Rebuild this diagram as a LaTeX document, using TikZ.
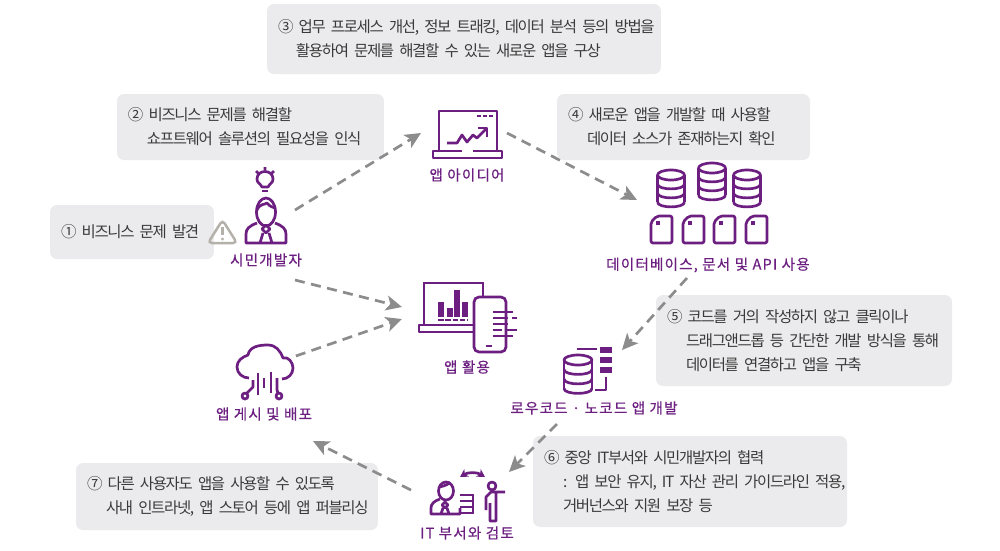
\documentclass[tikz,border=0pt]{standalone}
\usepackage{fontspec}
\setmainfont[LetterSpace=-8.5]{Noto Sans CJK KR}
\newfontfamily\labelfont[LetterSpace=8, FakeBold=0.5]{Noto Sans CJK KR}
\usetikzlibrary{arrows.meta, calc}
\definecolor{cpurple}{HTML}{6C1F80}
\definecolor{cgrey}{HTML}{8C8C8C}
\definecolor{cnote}{HTML}{EBEBED}
\definecolor{ctext}{HTML}{3A3A3A}
\definecolor{cwarn}{HTML}{B3B1A9}
\newcommand{\notefont}{\fontsize{4.4pt}{6.83pt}\selectfont\spaceskip 0.12em\relax}
\tikzset{
  every picture/.style={line width=0.25mm},
  note/.style={fill=cnote, rounded corners=0.7mm, anchor=north west, outer sep=0pt, inner xsep=1.1mm, inner ysep=0pt, align=left, text=ctext, font=\notefont},
  tag/.style={text=cpurple, inner sep=0pt, font=\labelfont\fontsize{4.15pt}{5pt}\selectfont},
  iconbox/.style={inner sep=0pt, outer sep=0pt},
  icon/.style={draw=cpurple, line width=0.27mm, line join=round},
  flow/.style={-{Stealth[length=1.6mm, width=1.5mm, inset=0.4mm]}, draw=cgrey, line width=0.27mm, dash pattern=on 1mm off 0.65mm},
}
\newcommand{\dbstack}[4]{%
  \draw[icon] (#1,#2) ellipse [x radius=#3, y radius=5];
  \draw[icon] ({#1-#3},#2) -- ({#1-#3},{#2+3*#4}) ({#1+#3},#2) -- ({#1+#3},{#2+3*#4});
  \foreach \n in {1,2,3} \draw[icon] ({#1-#3},{#2+\n*#4}) .. controls ({#1-#3},{#2+\n*#4+6.5}) and ({#1+#3},{#2+\n*#4+6.5}) .. ({#1+#3},{#2+\n*#4});}
\newcommand{\docsheet}[2]{%
  \draw[icon, rounded corners=0.2mm] ({#1+6},#2) -- ({#1+21},#2) -- ({#1+21},{#2+27}) -- (#1,{#2+27}) -- (#1,{#2+6}) -- cycle;
  \fill[cpurple] ({#1+5},{#2+5}) rectangle ({#1+9},{#2+9});}
\begin{document}
\begin{tikzpicture}[x=0.1mm, y=-0.1mm]
  \useasboundingbox (0,0) rectangle (1000,550);
  % notes
  \node[note, text width=14.2mm, minimum height=5.4mm] (note1) at (50,205) {\mbox{① 비즈니스 문제 발견}};
  \node[note, text width=24.5mm, minimum height=6.6mm] (note2) at (117,94) {② 비즈니스 문제를 해결할\\\hspace*{1.9mm}쇼프트웨어 솔루션의 필요성을 인식};
  \node[note, text width=37.2mm, minimum height=7mm] (note3) at (267,4) {\mbox{③ 업무 프로세스 개선, 정보 트래킹, 데이터 분석 등의 방법을}\\\hspace*{1.8mm}활용하여 문제를 해결할 수 있는 새로운 앱을 구상};
  \node[note, text width=23.1mm, minimum height=6.6mm] (note4) at (557,94) {④ 새로운 앱을 개발할 때 사용할\\\hspace*{1.9mm}데이터 소스가 존재하는지 확인};
  \node[note, text width=27.4mm, minimum height=9.1mm] (note5) at (656,295) {⑤ 코드를 거의 작성하지 않고 클릭이나\\\hspace*{1.9mm}\mbox{드래그앤드롭 등 간단한 개발 방식을 통해}\\\hspace*{1.9mm}데이터를 연결하고 앱을 구축};
  \node[note, text width=29.2mm, minimum height=9.1mm] (note6) at (533,436) {⑥ 중앙 IT부서와 시민개발자의 협력\\\hspace*{1.9mm}\mbox{: 앱 보안 유지, IT 자산 관리 가이드라인 적용,}\\\hspace*{1.9mm}거버넌스와 지원 보장 등};
  \node[note, text width=28mm, minimum height=6.7mm] (note7) at (76,463) {⑦ 다른 사용자도 앱을 사용할 수 있도록\\\hspace*{1.9mm}\mbox{사내 인트라넷, 앱 스토어 등에 앱 퍼블리싱}};
  % labels
  \node[tag] (devtag) at (266,260) {시민개발자};
  \node[tag] (ideatag) at (467,175) {앱 아이디어};
  \node[tag] (dbtag) at (708,265) {데이터베이스, 문서 및 API 사용};
  \node[tag] (usetag) at (467,367) {앱 활용};
  \node[tag] (lowtag) at (594,408) {로우코드 · 노코드 앱 개발};
  \node[tag] (deploytag) at (264,414) {앱 게시 및 배포};
  \node[tag] (reviewtag) at (467,533) {IT 부서와 검토};
  % connectors hang on these
  \node[iconbox, minimum width=6mm, minimum height=7mm] (dev) at (265,245) {};
  \node[iconbox, minimum width=8.6mm, minimum height=4mm] (idea) at (464,133) {};
  \node[iconbox, minimum width=5mm, minimum height=7.8mm] (db) at (662,239) {};
  \node[iconbox, minimum width=6.5mm, minimum height=7.4mm] (lowcode) at (589.5,387) {};
  \node[iconbox, minimum width=9.8mm, minimum height=3.6mm] (review) at (460,490) {};
  \node[iconbox, minimum width=9.6mm, minimum height=8.5mm] (deploy) at (265,398.5) {};
  \node[iconbox, minimum width=11.6mm, minimum height=1.2mm] (usage) at (460,313) {};
  \draw[flow] (dev.north east) -- (idea.west);
  \draw[flow] (idea.east) -- (db.north west);
  \draw[flow] (db.south east) -- (lowcode.north east);
  \draw[flow] (lowcode.south west) -- (review.north east);
  \draw[flow] (review.west) -- (deploy.south east);
  \draw[flow] (deploy.54) -- (usage.south west);
  \draw[flow] (dev.south east) -- (usage.north west);
  % warning sign
  \draw[draw=cwarn, rounded corners=0.4mm] (222.5,220) -- (237,243) -- (208,243) -- cycle;
  \draw[draw=cwarn] (222.5,227) -- (222.5,235);
  \fill[cwarn] (222.5,239) circle (1.6);
  % citizen developer
  \draw[icon] (262,187) .. controls (260,183) and (257,183) .. (257,179) .. controls (257,169) and (273,169) .. (273,179) .. controls (273,183) and (270,183) .. (268,187) -- cycle;
  \draw[icon] (262,191) -- (268,191);
  \draw[icon] (256,171) -- (259,174) (265,167) -- (265,170) (274,171) -- (271,174);
  \draw[icon] (266,212) ellipse [x radius=9.5, y radius=14];
  \draw[icon] (257,210) .. controls (260,203) and (265,205) .. (267,203) .. controls (270,207) and (273,207) .. (275,208);
  \draw[icon] (257,223) .. controls (249,226) and (246,229) .. (246,234) -- (246,243) -- (286,243) -- (286,234) .. controls (286,229) and (283,226) .. (275,223);
  \draw[icon] (266,225) -- (270,229) -- (266,233) -- (262,229) -- cycle;
  \draw[icon] (263,233) -- (260,243) (269,233) -- (272,243);
  % app idea
  \draw[icon] (439,151) -- (439,111) -- (497,111) -- (497,151);
  \draw[icon] (462,151) -- (433,151) -- (433,158) -- (502,158) -- (502,151) -- (473,151);
  \draw[icon, dash pattern=on 0.35mm off 0.25mm] (477,116) -- (493,116);
  \draw[icon] (447,143) -- (457,143) -- (462,135) -- (467,142) -- (473,135) -- (477,138) -- (487,128);
  \draw[icon] (478,128) -- (487,128) -- (487,137);
  % data sources
  \dbstack{671}{175}{13.5}{9}
  \dbstack{712}{168}{13.5}{9}
  \dbstack{747}{175}{13.5}{9}
  \foreach \x in {651,683,714,746} \docsheet{\x}{216}
  % app in use
  \draw[icon] (424,325) -- (424,283) -- (483,283) -- (483,297);
  \draw[icon] (474,325) -- (419,325) -- (419,332) -- (474,332);
  \foreach \x/\top in {438/302,447/308,454/290,462/302} \fill[cpurple] (\x,\top) rectangle ++(6,{317-\top});
  \draw[icon, dash pattern=on 0.55mm off 0.18mm] (438,320) -- (468,320);
  \draw[icon, fill=white, rounded corners=0.5mm] (474,297) rectangle (506,352);
  \draw[icon] (486,346) -- (492,346);
  \draw[icon] (493,312) -- (513,312) (493,318) -- (508,318) (512,318) -- (517,318) (493,324) -- (508,324) (493,330) -- (502,330) (505,330) -- (517,330) (493,336) -- (513,336);
  % cloud
  \draw[icon] (249,378) to[out=180, in=270] (237,367) to[out=90, in=200] (248,355) to[out=80, in=180] (268,345) to[out=0, in=110] (283,358) to[out=20, in=90] (293,368) to[out=270, in=0] (282,379);
  \draw[icon] (258,373) -- (258,395) (264,378) -- (264,388) (271,372) -- (271,393);
  \draw[icon] (253,380) -- (253,387) -- (247,393) (277,378) -- (277,390) -- (278,393);
  \draw[icon] (245,396) circle (3) (279,396) circle (3);
  % low code
  \dbstack{578}{360}{14}{9.5}
  \draw[icon] (577,349) -- (597,349) (595,390) -- (606,390) -- (606,377);
  \foreach \y in {347,357,367} \fill[cpurple] (600,\y) rectangle ++(12,6);
  % IT review
  \draw[icon] (446,491) ellipse [x radius=7.5, y radius=9];
  \draw[icon] (439,487) .. controls (445,486) and (449,484) .. (450,482);
  \draw[icon] (440,499) .. controls (434,501) and (431,504) .. (431,508) -- (431,514) -- (460,514) -- (460,508);
  \draw[icon] (445,502) -- (448,505) -- (445,508) -- (442,505) -- cycle (443,508) -- (441,514) (447,508) -- (449,514);
  \foreach \y in {495,501,507,513} \draw[icon] (460,\y) -- (474,\y);
  \draw[icon] (473,495) -- (473,513);
  \draw[icon, {Stealth[length=0.8mm, width=0.9mm]}-{Stealth[length=0.8mm, width=0.9mm]}] (460,477) .. controls (468,472) and (477,472) .. (485,477);
  \draw[icon] (492,486) circle (4);
  \draw[icon] (505,492) -- (491,492) -- (486,497) -- (486,510) (496,492) -- (496,521) -- (490,521) -- (490,503);
\end{tikzpicture}
\end{document}
